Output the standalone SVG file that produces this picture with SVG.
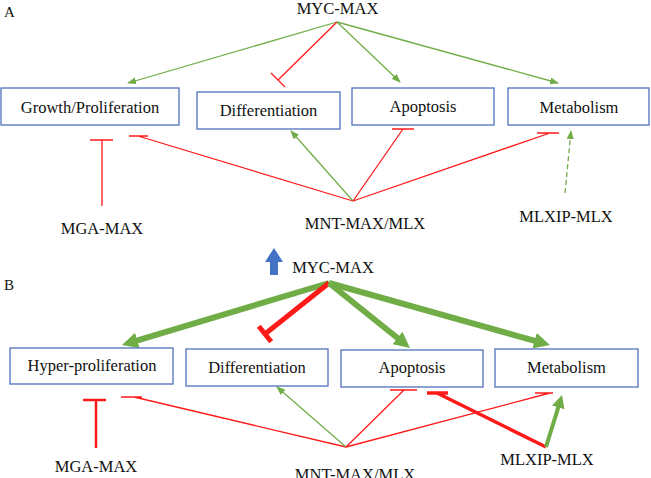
<svg xmlns="http://www.w3.org/2000/svg" width="651" height="478" viewBox="0 0 651 478" font-family="Liberation Serif, Times New Roman, serif">
<style>
text{font-family:'Liberation Serif','Times New Roman',serif;font-size:16.5px;fill:#111;text-anchor:middle}
.lbl{font-size:15px;text-anchor:start}
.box{fill:#fff;stroke:#4F71BE;stroke-width:1.3}
.g{stroke:#70AD47;fill:none;stroke-width:1.3}
.r{stroke:#FF1A1A;fill:none;stroke-width:1.3}
.gT{stroke:#70AD47;fill:none;stroke-width:6}
.rT{stroke:#FF1A1A;fill:none;stroke-width:5}
.gM{stroke:#70AD47;fill:none;stroke-width:4}
.rM{stroke:#FF1A1A;fill:none;stroke-width:3.5}
.dash{stroke-dasharray:5,3}
</style>
<defs>
<marker id="ah" markerUnits="userSpaceOnUse" markerWidth="9" markerHeight="7" refX="8" refY="3.5" orient="auto"><path d="M0,0 L9,3.5 L0,7 z" fill="#70AD47"/></marker>
<marker id="ahBig" markerUnits="userSpaceOnUse" markerWidth="16" markerHeight="16" refX="4" refY="8" orient="auto"><path d="M0,0 L16,8 L0,16 z" fill="#70AD47"/></marker>
<marker id="ahMid" markerUnits="userSpaceOnUse" markerWidth="13" markerHeight="13" refX="3" refY="6.5" orient="auto"><path d="M0,0 L13,6.5 L0,13 z" fill="#70AD47"/></marker>
</defs>

<text class="lbl" x="4" y="17">A</text>
<text class="lbl" x="4" y="290">B</text>

<g id="connectors">
<!-- Panel A -->
<path class="g" d="M337,22 L128,83" marker-end="url(#ah)"/>
<path class="r" d="M337,22 L278,80 M271,73 L285,87"/>
<path class="g" d="M337,22 L400,82" marker-end="url(#ah)"/>
<path class="g" d="M337,22 L558,83" marker-end="url(#ah)"/>
<path class="r" d="M353,201 L138,136 M129,136 L148,136"/>
<path class="r" d="M102,206 L102,140 M90,140 L113,140"/>
<path class="g" d="M353,201 L291,131" marker-end="url(#ah)"/>
<path class="r" d="M353,201 L403,129 M392,129 L414,129"/>
<path class="r" d="M353,201 L550,133 M537,133 L559,133"/>
<path class="g dash" d="M565,193 L571,131" marker-end="url(#ah)"/>
<!-- Panel B -->
<path class="gT" d="M329,283 L133.5,341.6" marker-end="url(#ahBig)"/>
<path class="rT" d="M329,283 L265,334 M258.8,326.2 L271.2,341.8"/>
<path class="gT" d="M329,283 L400.6,340.5" marker-end="url(#ahBig)"/>
<path class="gT" d="M329,283 L538.4,341.8" marker-end="url(#ahBig)"/>
<path class="r" d="M346,447 L134,397 M121,397 L142,397"/>
<path class="r" style="stroke-width:2.5" d="M96,448 L96,400 M83,400 L106,400"/>
<path class="g" d="M346,447 L277,387" marker-end="url(#ah)"/>
<path class="r" d="M346,447 L404,390 M390,390 L417,390"/>
<path class="r" d="M346,447 L550,393 M535,393 L553,393"/>
<path class="rM" d="M546,447 L437,393 M427,393 L448,393"/>
<path class="gM" d="M546,447 L559.1,404.6" marker-end="url(#ahMid)"/>
<polygon points="274,248 283,262 278,262 278,275 270,275 270,262 265,262" fill="#4472C4"/>
</g>

<!-- Panel A nodes -->
<g id="a-myc"><text x="337.5" y="14">MYC-MAX</text></g>
<g id="a-growth"><rect class="box" x="1" y="88" width="178" height="37"/><text x="90" y="113">Growth/Proliferation</text></g>
<g id="a-diff"><rect class="box" x="197" y="92" width="143" height="37"/><text x="268.5" y="116">Differentiation</text></g>
<g id="a-apop"><rect class="box" x="352" y="88" width="142" height="37"/><text x="423" y="112">Apoptosis</text></g>
<g id="a-metab"><rect class="box" x="508" y="88" width="141" height="37"/><text x="579" y="113">Metabolism</text></g>
<g id="a-mga"><text x="102" y="234">MGA-MAX</text></g>
<g id="a-mnt"><text x="365" y="229">MNT-MAX/MLX</text></g>
<g id="a-mlxip"><text x="566" y="222">MLXIP-MLX</text></g>

<!-- Panel B nodes -->
<g id="b-myc"><text x="333" y="273">MYC-MAX</text></g>
<g id="b-hyper"><rect class="box" x="10" y="348" width="163" height="36"/><text x="92" y="371">Hyper-proliferation</text></g>
<g id="b-diff"><rect class="box" x="186" y="349" width="142" height="37"/><text x="257" y="373">Differentiation</text></g>
<g id="b-apop"><rect class="box" x="341" y="350" width="142" height="37"/><text x="412" y="373">Apoptosis</text></g>
<g id="b-metab"><rect class="box" x="495" y="349" width="143" height="38"/><text x="566.5" y="373">Metabolism</text></g>
<g id="b-mga"><text x="96" y="472">MGA-MAX</text></g>
<g id="b-mnt"><text x="355" y="480">MNT-MAX/MLX</text></g>
<g id="b-mlxip"><text x="547" y="465">MLXIP-MLX</text></g>
</svg>
